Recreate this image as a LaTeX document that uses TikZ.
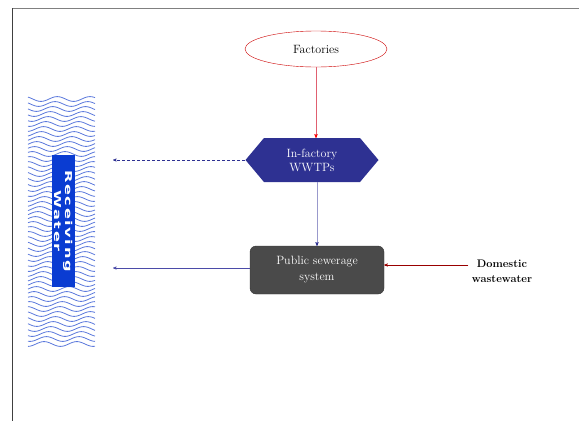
\documentclass[tikz,border=0pt]{standalone}
\usepackage{fontspec}
\usepackage{graphicx}
\usetikzlibrary{arrows,shapes.geometric,shapes.symbols}
\newfontfamily\rwfont[LetterSpace=10]{DejaVu Sans}
\definecolor{navy}{HTML}{2E3192}
\definecolor{darkbox}{HTML}{4A4A4A}
\definecolor{wavecol}{HTML}{5A78DC}
\definecolor{rwblue}{HTML}{0A3CD2}
\definecolor{pipe}{HTML}{4B4BA8}
\definecolor{lavender}{HTML}{9999CC}
\definecolor{darkred}{HTML}{990000}
\definecolor{lightred}{HTML}{E06070}

\begin{document}
\begin{tikzpicture}[x=1pt,y=-1pt,>=stealth',
	source/.style={ellipse, draw=red!80!black, minimum width=142pt, minimum height=36pt, font=\fontsize{12}{14}\selectfont},
	plant/.style={signal, signal to=west and east, signal pointer angle=100, fill=navy, text=white, minimum width=133pt, minimum height=44pt, inner sep=0pt, align=center, font=\fontsize{12}{14}\selectfont},
	sewer/.style={rectangle, rounded corners=6pt, fill=darkbox, draw=darkbox!70!black, text=white, minimum width=134pt, minimum height=48pt, align=center, font=\fontsize{12}{16}\selectfont},
	wave/.style={draw=wavecol, line width=0.8pt}]
	\useasboundingbox (0,0) rectangle (579,421);
	% frame
	\draw[gray, line width=1pt] (12,8) -- (579,8);
	\draw[black!75, line width=1pt] (12,8) -- (12,421);

	% receiving water
	\foreach \k in {0,...,49}
		\draw[wave] plot[domain=28:95, samples=40, smooth] (\x, {99+5*\k + 2.4*sin(11*\x + 25*\k)});
	\node[rectangle, rotate=-90, fill=rwblue, text=white, minimum width=132pt, minimum height=23pt, inner sep=0pt, align=center, font=\rwfont\bfseries\fontsize{9.5}{10.5}\selectfont]
		(water) at (63.5,221) {\scalebox{1.7}[1]{Receiving}\\\scalebox{1.7}[1]{Water}};

	\node[source] 		(factories) at (316,49)  {Factories};
	\node[plant]		(wwtp)      at (312,160) {In-factory\\WWTPs};
	\node[sewer]		(public)    at (317,270) {Public sewerage\\system};
	\node[align=center, font=\bfseries\fontsize{11}{15}\selectfont] (domestic) at (502,271) {Domestic\\wastewater};
	\coordinate (out1) at (113,160);
	\coordinate (out2) at (113,268);

	\path[->] (factories.south) edge[lightred]	node {} (factories.south |- wwtp.north)
			  (wwtp.south -| public.north) edge[lavender] node {} (public.north)
			  (wwtp.west) edge[navy, dash pattern=on 3pt off 2pt]	node {} (out1)
			  (public.west |- out2) edge[pipe] node {} (out2)
			  ([yshift=6pt]domestic.west) edge[darkred] node {} ([yshift=5pt]public.east);
	\draw[->, red, shorten >=0pt] ([yshift=2pt]factories.south |- wwtp.north) -- (factories.south |- wwtp.north);
	\draw[->, navy, shorten >=0pt] ([yshift=2pt]public.north) -- (public.north);
\end{tikzpicture}
\end{document}
